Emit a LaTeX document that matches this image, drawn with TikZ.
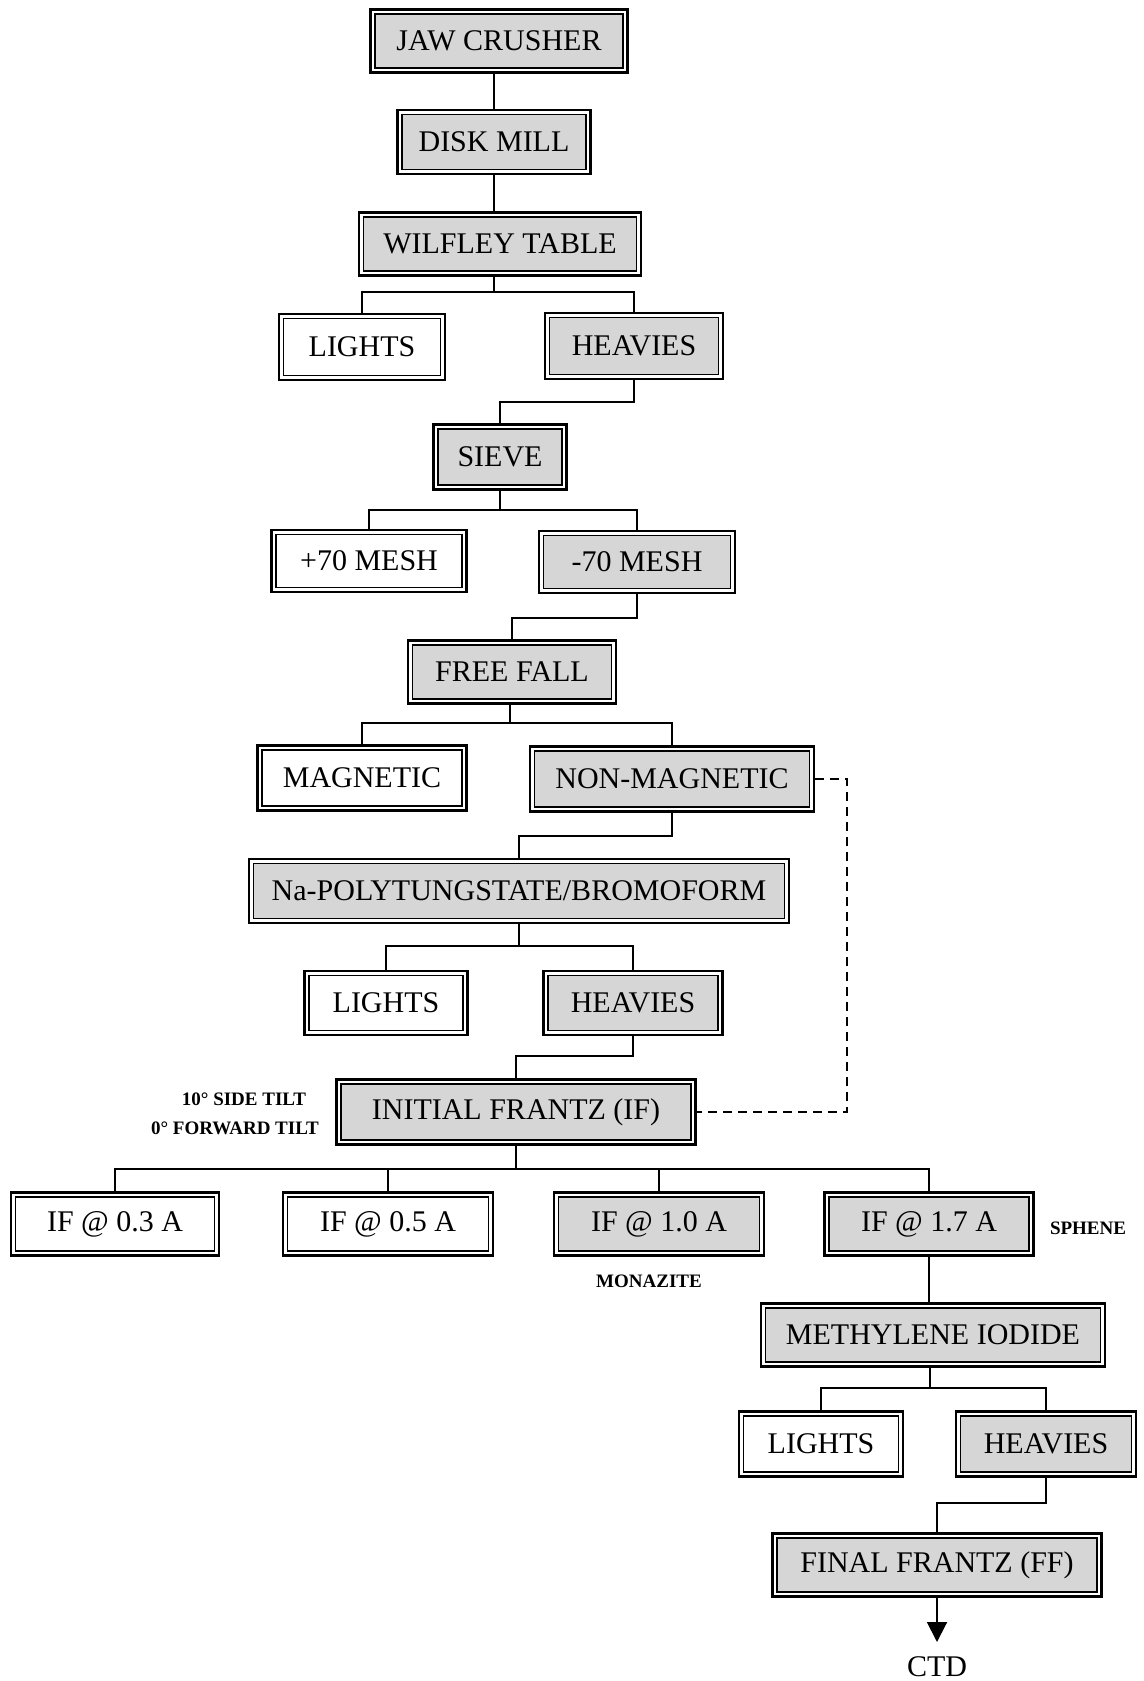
\documentclass[tikz,border=0pt]{standalone}
\usepackage{fontspec}
\setmainfont{Liberation Serif}
\usetikzlibrary{arrows.meta}
\definecolor{shade}{gray}{0.84}
\newcommand\mainf{\fontsize{30}{33}\selectfont}
\newcommand\labf{\fontsize{19}{21}\selectfont\bfseries}
\tikzset{
  boxbase/.style={draw, line width=2.7pt, inner sep=0pt, font=\mainf, fill=white},
  plainbox/.style={boxbase, path picture={\draw[line width=1.3pt, fill=white]
      ([xshift=4.6pt,yshift=-4.6pt]path picture bounding box.north west) rectangle
      ([xshift=-4.6pt,yshift=4.6pt]path picture bounding box.south east);}},
  shadebox/.style={boxbase, path picture={\draw[line width=1.3pt, fill=shade]
      ([xshift=4.6pt,yshift=-4.6pt]path picture bounding box.north west) rectangle
      ([xshift=-4.6pt,yshift=4.6pt]path picture bounding box.south east);}},
  sz/.style 2 args={minimum width=#1pt, minimum height=#2pt},
  conn/.style={line width=1.9pt},
  lab/.style={font=\labf, inner sep=0pt},
}
\begin{document}
\begin{tikzpicture}[x=1pt,y=-1pt]
\useasboundingbox (0,0) rectangle (1143,1681);
% main chain
\node[shadebox, sz={257}{63}] (jaw) at (499,41) {JAW CRUSHER};
\node[shadebox, sz={193}{64}] (disk) at (494,142) {DISK MILL};
\node[shadebox, sz={282}{63}] (wilfley) at (500,244) {WILFLEY TABLE};
\node[plainbox, sz={166}{66}] (lights1) at (362,347) {LIGHTS};
\node[shadebox, sz={178}{66}] (heavies1) at (634,346) {HEAVIES};
\node[shadebox, sz={133}{65}] (sieve) at (500,457) {SIEVE};
\node[plainbox, sz={195}{62}] (plus70) at (369,561) {+70 MESH};
\node[shadebox, sz={196}{62}] (minus70) at (637,562) {-70 MESH};
\node[shadebox, sz={208}{63}] (freefall) at (512,672) {FREE FALL};
\node[plainbox, sz={209}{65}] (magnetic) at (362,778) {MAGNETIC};
\node[shadebox, sz={284}{65}] (nonmag) at (672,779) {NON-MAGNETIC};
\node[shadebox, sz={540}{64}] (napoly) at (519,891) {Na-POLYTUNGSTATE/BROMOFORM};
\node[plainbox, sz={163}{64}] (lights2) at (386,1003) {LIGHTS};
\node[shadebox, sz={179}{64}] (heavies2) at (633,1003) {HEAVIES};
\node[shadebox, sz={359}{65}] (ifr) at (516,1112) {INITIAL FRANTZ (IF)};
\node[plainbox, sz={208}{63}] (if03) at (115,1224) {IF @ 0.3 A};
\node[plainbox, sz={210}{63}] (if05) at (388,1224) {IF @ 0.5 A};
\node[shadebox, sz={210}{63}] (if10) at (659,1224) {IF @ 1.0 A};
\node[shadebox, sz={209}{63}] (if17) at (929,1224) {IF @ 1.7 A};
\node[shadebox, sz={344}{63}] (meth) at (933,1335) {METHYLENE IODIDE};
\node[plainbox, sz={164}{65}] (lights3) at (821,1444) {LIGHTS};
\node[shadebox, sz={180}{65}] (heavies3) at (1046,1444) {HEAVIES};
\node[shadebox, sz={329}{63}] (ff) at (937,1565) {FINAL FRANTZ (FF)};
\node[font=\mainf, inner sep=0pt] (ctd) at (937,1667) {CTD};
% labels
\node[lab] (tilt1) at (244,1099) {10° SIDE TILT};
\node[lab] (tilt2) at (235,1128) {0° FORWARD TILT};
\node[lab] (sphene) at (1088,1228) {SPHENE};
\node[lab] (monazite) at (649,1281) {MONAZITE};
% junctions
\coordinate (j1) at (494,292);
\coordinate (j2) at (500,510);
\coordinate (j3) at (510,723);
\coordinate (j4) at (519,946);
\coordinate (j5) at (516,1169);
\coordinate (j6) at (930,1388);
\coordinate (d1) at (847,779);
\coordinate (tip) at (937,1642);
% connectors
\draw[conn] (jaw.south -| disk.north) -- (disk.north);
\draw[conn] (disk.south) -- (disk.south |- wilfley.north);
\draw[conn] (wilfley.south -| j1) -- (j1);
\draw[conn] (lights1.north) |- (j1) -| (heavies1.north);
\draw[conn] (heavies1.south) -- (heavies1.south |- 0,402) -| (sieve.north);
\draw[conn] (sieve.south -| j2) -- (j2);
\draw[conn] (plus70.north) |- (j2) -| (minus70.north);
\draw[conn] (minus70.south) -- (minus70.south |- 0,618) -| (freefall.north);
\draw[conn] (freefall.south -| j3) -- (j3);
\draw[conn] (magnetic.north) |- (j3) -| (nonmag.north);
\draw[conn] (nonmag.south) -- (nonmag.south |- 0,836) -| (napoly.north);
\draw[conn] (napoly.south -| j4) -- (j4);
\draw[conn] (lights2.north) |- (j4) -| (heavies2.north);
\draw[conn] (heavies2.south) -- (heavies2.south |- 0,1056) -| (ifr.north);
\draw[conn] (ifr.south -| j5) -- (j5);
\draw[conn] (if03.north) |- (j5) -| (if17.north);
\draw[conn] (if05.north) -- (if05.north |- j5);
\draw[conn] (if10.north) -- (if10.north |- j5);
\draw[conn] (if17.south) -- (if17.south |- meth.north);
\draw[conn] (meth.south -| j6) -- (j6);
\draw[conn] (lights3.north) |- (j6) -| (heavies3.north);
\draw[conn] (heavies3.south) -- (heavies3.south |- 0,1503) -| (ff.north);
\draw[conn, -{Triangle[length=20pt,width=20pt]}] (ff.south) -- (tip);
\draw[line width=1.6pt, dash pattern=on 9pt off 6pt] (nonmag.east) -- (d1) -- (d1 |- ifr.east) -- (ifr.east);
\end{tikzpicture}
\end{document}
